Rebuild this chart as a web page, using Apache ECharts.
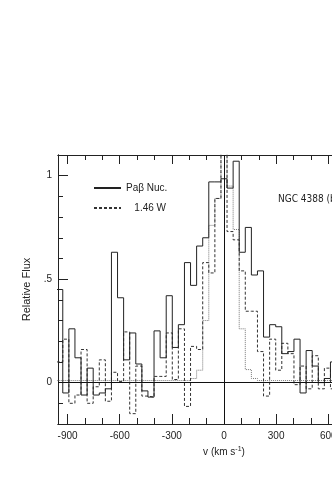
<!DOCTYPE html>
<html><head><meta charset="utf-8">
<script src="https://cdn.jsdelivr.net/npm/echarts@6/dist/echarts.min.js"></script>
<style>html,body{margin:0;padding:0;background:#fff;overflow:hidden;width:332px;height:491px}
#c{width:420px;height:491px}</style></head>
<body><div id="c"></div>
<script>
// bin edges (km/s), last entry closes the last bin
const binEdges = [-962.5,-927.5,-892.5,-857.5,-822.5,-787.5,-752.5,-717.5,-682.5,-647.5,
  -612.5,-577.5,-542.5,-507.5,-472.5,-437.5,-402.5,-367.5,-332.5,-297.5,
  -262.5,-227.5,-192.5,-157.5,-122.5,-87.5,-52.5,-17.5,17.5,52.5,
  87.5,122.5,157.5,192.5,227.5,262.5,297.5,332.5,367.5,402.5,
  437.5,472.5,507.5,542.5,577.5,612.5,647.5];
// Pa beta nuclear (solid)
const pabNuc = [0.45,-0.05,0.26,0.12,-0.06,0.07,-0.06,-0.05,-0.03,0.63,
  0.41,0.11,0.24,0.09,-0.04,-0.07,0.25,0.12,0.42,0.17,
  0.28,0.58,0.47,0.66,0.70,0.97,0.97,0.985,0.94,1.07,
  0.63,0.75,0.52,0.54,0.22,0.28,0.27,0.14,0.15,0.21,
  -0.05,0.155,0.08,0.0,0.02,0.10];
// 1.46 W (dashed)
const w146 = [0.10,0.21,-0.10,-0.06,0.16,-0.10,-0.02,0.11,-0.09,0.05,
  0.005,0.245,-0.15,0.08,-0.065,-0.07,0.03,0.03,0.24,0.015,
  0.26,-0.115,0.175,0.16,0.58,0.53,0.89,1.15,0.73,0.69,
  0.54,0.345,0.345,0.15,-0.065,0.21,0.06,0.19,0.14,-0.01,
  0.08,-0.03,0.13,-0.03,0.07,-0.03];
// dotted profile
const dottedProfile = [0.01,0.01,0.01,0.01,0.01,0.01,0.01,0.01,0.01,0.01,
  0.01,0.01,0.01,0.01,0.01,0.01,0.01,0.01,0.01,0.01,
  0.01,0.01,0.02,0.06,0.30,0.76,0.89,1.15,0.95,0.74,
  0.26,0.063,0.02,0.01,0.01,0.01,0.01,0.01,0.01,0.01,
  0.01,0.01,0.01,0.01,0.01,0.01];
const xMajorTicks = [-900,-600,-300,0,300,600,900];
const xMinorTicks = [-800,-700,-500,-400,-200,-100,100,200,400,500,700,800];
const yMajorTicks = [0,0.5,1];
const yMinorTicks = [-0.1,0.1,0.2,0.3,0.4,0.6,0.7,0.8,0.9];
const legendNames = ['Paβ Nuc.','1.46 W'];
const objectLabel = 'NGC 4388 (b)';
const xRange = [-955,955];
const yRange = [-0.2,1.1];

function steps(vals){
  const d = vals.map((v,i)=>[binEdges[i], v]);
  d.push([binEdges[binEdges.length-1], vals[vals.length-1]]);
  return d;
}
const FONT = 'Liberation Sans';
const AX = '#222';
function xAx(pos, ticks, len, labels){
  return {type:'value', position:pos, min:xRange[0], max:xRange[1],
    axisLine:{show:true, onZero:false, lineStyle:{color:AX,width:1}},
    axisTick:{show:true, inside:true, length:len, customValues:ticks, lineStyle:{color:AX,width:1}},
    axisLabel:labels ? {show:true, customValues:ticks, margin:7, color:'#222', fontSize:10, fontFamily:FONT,
      formatter:v=>String(v)} : {show:false},
    splitLine:{show:false}};
}
function yAx(pos, ticks, len, labels){
  return {type:'value', position:pos, min:yRange[0], max:yRange[1],
    axisLine:{show:true, onZero:false, lineStyle:{color:AX,width:1}},
    axisTick:{show:true, inside:true, length:len, customValues:ticks, lineStyle:{color:AX,width:1}},
    axisLabel:labels ? {show:true, customValues:ticks, margin:6, color:'#222', fontSize:10, fontFamily:FONT,
      formatter:v=> v===0.5 ? '.5' : String(v)} : {show:false},
    splitLine:{show:false}};
}
const xMain = xAx('bottom', xMajorTicks, 10, true);
xMain.name = 'v (km s{sup|-1})';
xMain.nameLocation = 'middle';
xMain.nameGap = 22;
xMain.nameTextStyle = {color:'#222', fontSize:10, fontFamily:FONT, rich:{sup:{fontSize:7, verticalAlign:'top', color:'#222', fontFamily:FONT, padding:[0,0,6,0]}}};
const yMain = yAx('left', yMajorTicks, 10, true);
yMain.name = 'Relative Flux';
yMain.nameLocation = 'middle';
yMain.nameGap = 24;
yMain.nameTextStyle = {color:'#222', fontSize:11, fontFamily:FONT};

const chart = echarts.init(document.getElementById('c'), null, {renderer:'canvas'});
chart.setOption({
  animation:false,
  backgroundColor:'#fff',
  grid:{left:58, top:155, right:30, bottom:67, containLabel:false},
  title:{text:objectLabel, left:273, top:189, textStyle:{fontSize:10, fontWeight:'normal', color:'#222', fontFamily:"'Liberation Sans Narrow','DejaVu Sans Condensed','Liberation Sans'"}},
  legend:{data:legendNames, orient:'vertical', left:88, top:178, itemWidth:27, itemHeight:12, itemGap:10,
    itemStyle:{opacity:0}, 
    formatter:n=> n===legendNames[1] ? '   '+n : n,
    textStyle:{fontSize:10, color:'#222', fontFamily:FONT}},
  xAxis:[xMain, xAx('bottom', xMinorTicks, 6, false), xAx('top', xMajorTicks, 9, false), xAx('top', xMinorTicks, 5, false)],
  yAxis:[yMain, yAx('left', yMinorTicks, 5, false)],
  series:[
    {name:'dotted', type:'line', step:'end', symbol:'none', clip:true, data:steps(dottedProfile),
      lineStyle:{color:'#777', width:1, type:[1,1]}, z:2},
    {name:legendNames[1], type:'line', step:'end', symbol:'none', clip:true, data:steps(w146),
      lineStyle:{color:'#333', width:1, type:[3,2]}, itemStyle:{color:'#333'}, z:3},
    {name:legendNames[0], type:'line', step:'end', symbol:'none', clip:true, data:steps(pabNuc),
      lineStyle:{color:'#222', width:1}, itemStyle:{color:'#222'}, z:4,
      markLine:{silent:true, symbol:'none', label:{show:false}, animation:false,
        lineStyle:{color:'#111', width:1, type:'solid'},
        data:[{yAxis:0},{xAxis:0}]}}
  ]
});
</script></body></html>
